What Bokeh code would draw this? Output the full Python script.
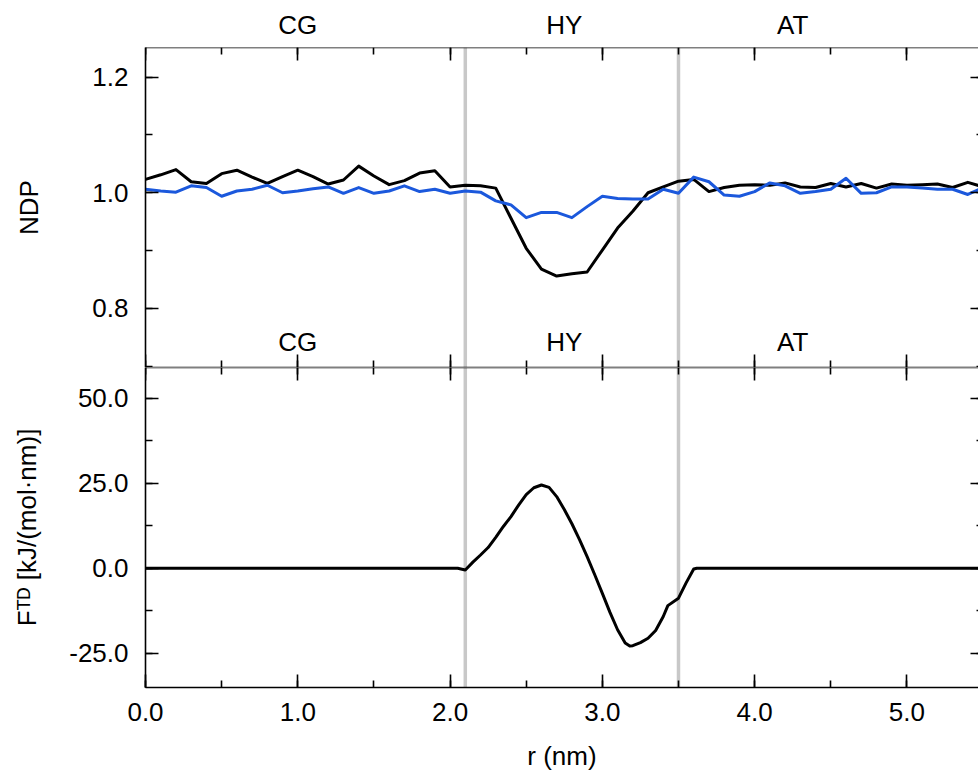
from bokeh.plotting import figure
from bokeh.models import Range1d, LinearAxis, SingleIntervalTicker, NumeralTickFormatter, Span, Label
from bokeh.core.properties import value
from bokeh.layouts import column
from bokeh.embed import file_html
from bokeh.resources import INLINE

# ---------------- data ----------------
r_ndp = [0.0, 0.1, 0.2, 0.3, 0.4, 0.5, 0.6, 0.7, 0.8, 0.9,
         1.0, 1.1, 1.2, 1.3, 1.4, 1.5, 1.6, 1.7, 1.8, 1.9,
         2.0, 2.1, 2.2, 2.3, 2.4, 2.5, 2.6, 2.7, 2.8, 2.9,
         3.0, 3.1, 3.2, 3.3, 3.4, 3.5, 3.6, 3.7, 3.8, 3.9,
         4.0, 4.1, 4.2, 4.3, 4.4, 4.5, 4.6, 4.7, 4.8, 4.9,
         5.0, 5.1, 5.2, 5.3, 5.4, 5.5]
ndp_black = [1.023, 1.031, 1.040, 1.019, 1.016, 1.033, 1.039, 1.027, 1.016, 1.028,
             1.039, 1.028, 1.015, 1.022, 1.046, 1.029, 1.014, 1.021, 1.034, 1.038,
             1.010, 1.013, 1.012, 1.008, 0.956, 0.904, 0.868, 0.856, 0.860, 0.863,
             0.901, 0.939, 0.968, 1.000, 1.010, 1.020, 1.023, 1.002, 1.009, 1.013,
             1.014, 1.013, 1.017, 1.010, 1.009, 1.016, 1.010, 1.016, 1.008, 1.015,
             1.013, 1.014, 1.015, 1.009, 1.018, 1.010]
ndp_blue = [1.006, 1.003, 1.001, 1.012, 1.009, 0.994, 1.003, 1.006, 1.013, 1.000,
            1.003, 1.007, 1.010, 0.999, 1.009, 0.999, 1.003, 1.012, 1.002, 1.006,
            0.999, 1.003, 1.001, 0.986, 0.979, 0.957, 0.966, 0.966, 0.957, 0.976,
            0.994, 0.990, 0.989, 0.989, 1.006, 0.999, 1.027, 1.019, 0.996, 0.994,
            1.002, 1.017, 1.012, 0.999, 1.002, 1.006, 1.025, 0.999, 1.000, 1.010,
            1.010, 1.008, 1.006, 1.006, 0.997, 1.009]

r_force = [0.0, 2.05, 2.10, 2.15, 2.20, 2.25, 2.30, 2.35, 2.40, 2.45,
           2.50, 2.55, 2.60, 2.65, 2.70, 2.75, 2.80, 2.85, 2.90, 2.95,
           3.00, 3.05, 3.10, 3.15, 3.18, 3.20, 3.25, 3.30, 3.35, 3.40, 3.43,
           3.50, 3.55, 3.60, 3.62, 5.5]
f_td = [0.0, 0.0, -0.5, 1.8, 3.9, 6.1, 9.1, 12.3, 15.2, 18.6,
        21.7, 23.7, 24.5, 23.8, 21.1, 17.3, 13.1, 8.4, 3.4, -1.9,
        -7.4, -13.0, -18.1, -22.0, -22.9, -22.8, -21.9, -20.6, -18.3, -14.2, -11.0,
        -8.8, -4.3, -0.2, 0.0, 0.0]

boundaries = [2.1, 3.5]
region_names = ["CG", "HY", "AT"]
region_centers = [1.0, 2.75, 4.25]

FONT = "Liberation Sans"
FS = "26px"
BLUE = "#1b58dc"
GRAY = "#c8c8c8"

X_START, X_END, X_EDGE = 0.0, 5.47, 5.5
NDP_LO, NDP_HI = 0.698, 1.251
F_LO, F_HI = -35.1, 59.1
FRAME_W = 833
LEFT = 145

x_range = Range1d(X_START, X_END)


def style_axis(ax, show_labels):
    ax.axis_line_color = "black"
    ax.axis_line_width = 1.6
    ax.major_tick_line_color = "black"
    ax.major_tick_line_width = 1.6
    ax.minor_tick_line_color = "black"
    ax.minor_tick_line_width = 1.6
    ax.major_tick_in = 13
    ax.major_tick_out = 0
    ax.minor_tick_in = 7
    ax.minor_tick_out = 0
    ax.major_label_text_font = FONT
    ax.major_label_text_font_size = FS
    ax.major_label_text_color = "black"
    ax.axis_label_text_font = FONT
    ax.axis_label_text_font_size = FS
    ax.axis_label_text_font_style = "normal"
    ax.axis_label_text_color = "black"
    if not show_labels:
        ax.major_label_text_alpha = 0


def bare_fig(y_lo, y_hi, frame_h, border_top, border_bottom):
    p = figure(frame_width=FRAME_W, frame_height=frame_h,
               x_range=x_range, y_range=Range1d(y_lo, y_hi),
               x_axis_location=None, y_axis_location=None,
               toolbar_location=None, output_backend="svg",
               min_border_left=LEFT, min_border_right=0,
               min_border_top=border_top, min_border_bottom=border_bottom,
               background_fill_color="white", border_fill_color="white")
    p.outline_line_color = None
    p.xgrid.visible = False
    p.ygrid.visible = False
    return p


def make_panel(y_lo, y_hi, y_interval, border_top, border_bottom):
    p = bare_fig(y_lo, y_hi, 320, border_top, border_bottom)
    for b in boundaries:
        p.add_layout(Span(location=b, dimension="height", line_color=GRAY,
                          line_width=3.5, level="underlay"))
    top_ax = LinearAxis(ticker=SingleIntervalTicker(interval=1.0, num_minor_ticks=2),
                        fixed_location=y_hi)
    style_axis(top_ax, False)
    p.add_layout(top_ax, "above")
    bot_ax = LinearAxis(ticker=SingleIntervalTicker(interval=1.0, num_minor_ticks=2),
                        fixed_location=y_lo)
    style_axis(bot_ax, False)
    p.add_layout(bot_ax, "below")
    right_ax = LinearAxis(ticker=SingleIntervalTicker(interval=y_interval, num_minor_ticks=2),
                          fixed_location=X_EDGE)
    style_axis(right_ax, False)
    p.add_layout(right_ax, "right")
    return p


# ---------------- region labels strip above the top panel ----------------
strip = bare_fig(0, 45, 45, 0, 0)
strip.text(x=region_centers, y=[20.5] * len(region_names), text=region_names,
           text_align="center", text_baseline="alphabetic",
           text_font=value(FONT), text_font_size=FS, text_color="black")

# ---------------- top panel (NDP) ----------------
top = make_panel(NDP_LO, NDP_HI, 0.2, 2, 0)
left_top = LinearAxis(ticker=SingleIntervalTicker(interval=0.2, num_minor_ticks=2),
                      formatter=NumeralTickFormatter(format="0.0"),
                      axis_label="NDP")
style_axis(left_top, True)
left_top.major_label_standoff = 17
left_top.axis_label_standoff = 45
top.add_layout(left_top, "left")

top.line(r_ndp, ndp_black, line_color="black", line_width=3, line_join="round")
top.line(r_ndp, ndp_blue, line_color=BLUE, line_width=3, line_join="round")

for name, cx in zip(region_names, region_centers):
    top.add_layout(Label(x=cx, y=0.7415, text=name, text_align="center",
                         text_baseline="alphabetic", text_font=FONT,
                         text_font_size=FS, text_color="black"))

# ---------------- bottom panel (F_TD) ----------------
bottom = make_panel(F_LO, F_HI, 25.0, 0, 0)
bottom.below[0].visible = False

below_ax = LinearAxis(ticker=SingleIntervalTicker(interval=1.0, num_minor_ticks=2),
                      formatter=NumeralTickFormatter(format="0.0"),
                      axis_label="r (nm)")
style_axis(below_ax, True)
below_ax.major_label_standoff = 15
below_ax.axis_label_standoff = 17
bottom.add_layout(below_ax, "below")

left_bot = LinearAxis(ticker=SingleIntervalTicker(interval=25.0, num_minor_ticks=2),
                      formatter=NumeralTickFormatter(format="0.0"),
                      axis_label="F\u1d40\u1d30 [kJ/(mol\u00b7nm)]")
style_axis(left_bot, True)
left_bot.major_label_standoff = 17
left_bot.axis_label_standoff = 24
bottom.add_layout(left_bot, "left")

bottom.line(r_force, f_td, line_color="black", line_width=3, line_join="round")

layout = column(strip, top, bottom, spacing=0)
open("out.html", "w").write(file_html(layout, INLINE))
